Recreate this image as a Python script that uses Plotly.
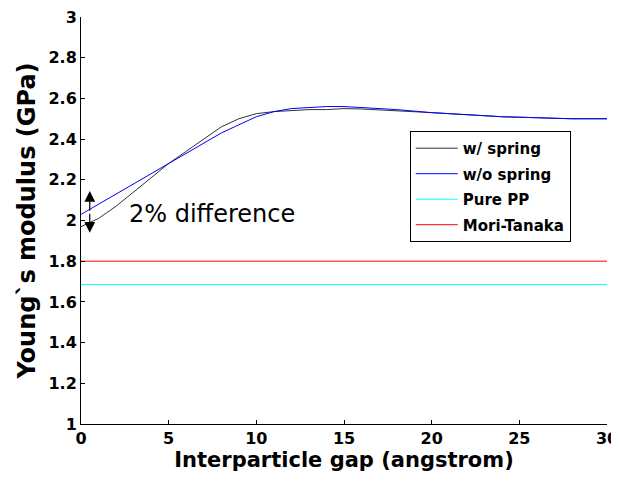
import plotly.graph_objects as go

gap = [0, 1, 2, 3, 4, 5, 6, 7, 8, 9, 10, 11, 12, 13, 14, 15, 16, 18, 20, 22, 24, 26, 28, 30]
w_spring = [1.97, 2.01, 2.07, 2.14, 2.21, 2.28, 2.34, 2.40, 2.46, 2.50, 2.525, 2.535, 2.54, 2.545,
            2.545, 2.55, 2.548, 2.54, 2.53, 2.52, 2.51, 2.505, 2.50, 2.50]
wo_spring = [2.03, 2.08, 2.13, 2.18, 2.23, 2.28, 2.33, 2.38, 2.43, 2.47, 2.51, 2.535, 2.55, 2.555,
             2.56, 2.56, 2.555, 2.545, 2.53, 2.52, 2.51, 2.505, 2.50, 2.50]
pure_pp = 1.685
mori_tanaka = 1.80
x_range = [0, 30]
x_ticks = [0, 5, 10, 15, 20, 25, 30]
y_ticks = [1, 1.2, 1.4, 1.6, 1.8, 2, 2.2, 2.4, 2.6, 2.8, 3]
arrow_x = 0.5
arrow_top, arrow_mid, arrow_bot = 2.145, 2.04, 1.94

FONT = "DejaVu Sans"

fig = go.Figure()
fig.add_trace(go.Scatter(x=gap, y=w_spring, mode="lines", name="w/ spring", legendgroup="a",
                         line=dict(color="#333333", width=1)))
fig.add_trace(go.Scatter(x=gap, y=wo_spring, mode="lines", name="w/o spring", legendgroup="b",
                         line=dict(color="#0000ff", width=1)))
fig.add_trace(go.Scatter(x=x_range, y=[pure_pp, pure_pp], mode="lines", name="Pure PP",
                         legendgroup="c", line=dict(color="#00ffff", width=1)))
fig.add_trace(go.Scatter(x=x_range, y=[mori_tanaka, mori_tanaka], mode="lines", name="Mori-Tanaka",
                         legendgroup="d", line=dict(color="#ff0000", width=1)))

for tip in (arrow_top, arrow_bot):
    fig.add_annotation(x=arrow_x, y=tip, ax=arrow_x, ay=arrow_mid, xref="x", yref="y",
                       axref="x", ayref="y", text="", showarrow=True, arrowhead=2,
                       arrowsize=1.8, arrowwidth=1.2, arrowcolor="black")
fig.add_annotation(x=2.6, y=2.03, xref="x", yref="y", text="2% difference", showarrow=False,
                   xanchor="left", yanchor="middle", font=dict(family=FONT, size=24, color="black"))

# the page body has an 8px margin, so the figure is sized/margined to land where the reference does
fig.update_layout(
    width=611, height=477,
    margin=dict(l=73, r=12, t=9, b=61),
    paper_bgcolor="white", plot_bgcolor="white",
    font=dict(family=FONT, color="black"),
    legend=dict(x=0.625, y=0.72, xanchor="left", yanchor="top",
                bordercolor="black", borderwidth=1, bgcolor="white",
                font=dict(family=FONT, size=15, color="black", weight="bold"),
                tracegroupgap=3, itemwidth=42),
    xaxis=dict(range=x_range, tickvals=x_ticks, showgrid=False, zeroline=False, automargin=False,
               showline=True, linecolor="black", linewidth=1, ticks="inside", ticklen=4,
               ticklabeloverflow="allow",
               tickcolor="black", tickfont=dict(family=FONT, size=16, weight="bold"),
               title=dict(text="Interparticle gap (angstrom)", standoff=4,
                          font=dict(family=FONT, size=21, weight="bold"))),
    yaxis=dict(range=[1, 3], tickvals=y_ticks, showgrid=False, zeroline=False, automargin=False,
               showline=True, linecolor="black", linewidth=1, ticks="inside", ticklen=4,
               ticklabeloverflow="allow",
               tickcolor="black", tickfont=dict(family=FONT, size=16, weight="bold"),
               title=dict(text="Young`s modulus (GPa)", standoff=6,
                          font=dict(family=FONT, size=24, weight="bold"))),
)

fig.write_html("out.html")
